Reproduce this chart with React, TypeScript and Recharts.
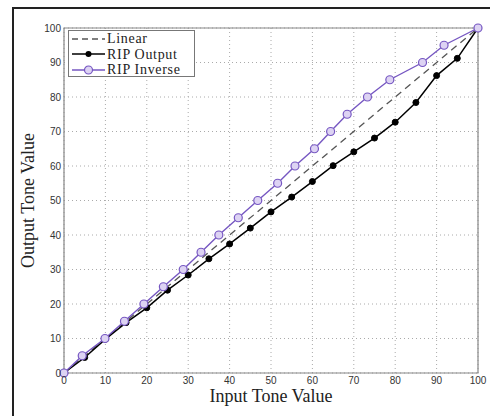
import React from 'react'
import {
  LineChart,
  Line,
  XAxis,
  YAxis,
  CartesianGrid,
  ReferenceArea,
  Legend,
  Label,
} from 'recharts'

// input tone (0..100, step 5) used for the RIP output curve
const inputTone = [0, 5, 10, 15, 20, 25, 30, 35, 40, 45, 50, 55, 60, 65, 70, 75, 80, 85, 90, 95, 100]
// measured RIP output for each input tone
const ripOutput = [0, 4.5, 9.8, 14.6, 18.9, 24.0, 28.4, 33.1, 37.4, 42.0, 46.7, 51.0, 55.5, 60.1, 64.1, 68.1, 72.7, 78.4, 86.2, 91.2, 100]
// inverse curve: input needed for each target output
const inverseInput = [0, 4.4, 9.9, 14.6, 19.3, 24.0, 28.8, 33.1, 37.4, 42.1, 46.8, 51.6, 55.8, 60.5, 64.4, 68.4, 73.3, 78.7, 86.6, 91.8, 100]
const inverseOutput = [0, 5, 10, 15, 20, 25, 30, 35, 40, 45, 50, 55, 60, 65, 70, 75, 80, 85, 90, 95, 100]
const linearEnds = [0, 100]
const axisTicks = [0, 10, 20, 30, 40, 50, 60, 70, 80, 90, 100]

const PURPLE = '#7657c2'

const linearData = linearEnds.map((v) => ({ x: v, y: v }))
const outputData = inputTone.map((x, i) => ({ x, y: ripOutput[i] }))
const inverseData = inverseInput.map((x, i) => ({ x, y: inverseOutput[i] }))

const legendItems = [
  { label: 'Linear', kind: 'dash' },
  { label: 'RIP Output', kind: 'black' },
  { label: 'RIP Inverse', kind: 'purple' },
]

function LegendBox() {
  return (
    <div
      style={{
        border: '1px solid #777',
        background: '#fff',
        width: 127,
        height: 47,
        paddingTop: 0,
        boxSizing: 'border-box',
        fontFamily: '"Liberation Serif", serif',
        fontSize: 14,
        letterSpacing: 0.7,
        color: '#222',
      }}
    >
      {legendItems.map((it) => (
        <div key={it.label} style={{ display: 'flex', alignItems: 'center', height: 15.5, lineHeight: '15.5px' }}>
          <svg width={38} height={14} style={{ flex: 'none' }}>
            {it.kind === 'dash' && (
              <line x1={3} y1={7} x2={36} y2={7} stroke="#555" strokeWidth={1.4} strokeDasharray="6 4" />
            )}
            {it.kind === 'black' && (
              <>
                <line x1={3} y1={7} x2={36} y2={7} stroke="#000" strokeWidth={1.6} />
                <circle cx={19.5} cy={7} r={3} fill="#000" />
              </>
            )}
            {it.kind === 'purple' && (
              <>
                <line x1={3} y1={7} x2={36} y2={7} stroke={PURPLE} strokeWidth={1.4} />
                <circle cx={19.5} cy={7} r={4} fill="#ddd3f3" stroke={PURPLE} strokeWidth={1.2} />
              </>
            )}
          </svg>
          <span style={{ whiteSpace: 'nowrap' }}>{it.label}</span>
        </div>
      ))}
    </div>
  )
}

const tickStyle = { fontSize: 10, fill: '#333', fontFamily: '"Liberation Sans", Arial, sans-serif' }

export default function App() {
  return (
    <div style={{ position: 'absolute', left: 0, top: 0, width: 490, height: 416, overflow: 'hidden', background: '#fff' }}>
      <div
        style={{
          position: 'absolute',
          left: 12,
          top: 7,
          width: 500,
          height: 430,
          borderTop: '2px solid #222',
          borderLeft: '2px solid #222',
        }}
      />
      <div style={{ position: 'absolute', left: 0, top: 0 }}>
        <LineChart width={490} height={416} margin={{ top: 28, right: 12, left: 24, bottom: 0 }}>
          <CartesianGrid stroke="#aaa" strokeDasharray="1 3" />
          <XAxis
            type="number"
            dataKey="x"
            domain={[0, 100]}
            ticks={axisTicks}
            height={43}
            axisLine={false}
            tickLine={false}
            tickSize={2}
            tickMargin={2}
            tick={tickStyle}
          >
            <Label
              value="Input Tone Value"
              position="insideBottom"
              offset={14}
              style={{ fontFamily: '"Liberation Serif", serif', fontSize: 18, fill: '#222' }}
            />
          </XAxis>
          <YAxis
            type="number"
            domain={[0, 100]}
            ticks={axisTicks}
            width={40}
            axisLine={false}
            tickLine={false}
            tickSize={2}
            tickMargin={1}
            tick={tickStyle}
          >
            <Label
              value="Output Tone Value"
              angle={-90}
              position="insideLeft"
              offset={8}
              dx={-4}
              style={{ textAnchor: 'middle', fontFamily: '"Liberation Serif", serif', fontSize: 18, fill: '#222' }}
            />
          </YAxis>
          <ReferenceArea x1={0} x2={100} y1={0} y2={100} fill="none" stroke="#888" strokeWidth={1.2} />
          <Legend
            layout="horizontal"
            verticalAlign="middle"
            align="center"
            content={() => <LegendBox />}
            wrapperStyle={{ left: 68, top: 30, width: 127 }}
          />
          <Line
            data={linearData}
            dataKey="y"
            name="Linear"
            stroke="#555"
            strokeWidth={1.3}
            strokeDasharray="7 5"
            dot={false}
            isAnimationActive={false}
          />
          <Line
            data={outputData}
            dataKey="y"
            name="RIP Output"
            stroke="#000"
            strokeWidth={1.5}
            dot={{ r: 3, fill: '#000', stroke: '#000', strokeWidth: 1 }}
            isAnimationActive={false}
          />
          <Line
            data={inverseData}
            dataKey="y"
            name="RIP Inverse"
            stroke={PURPLE}
            strokeWidth={1.4}
            dot={{ r: 4, fill: '#ddd3f3', stroke: PURPLE, strokeWidth: 1.2 }}
            isAnimationActive={false}
          />
        </LineChart>
      </div>
    </div>
  )
}
